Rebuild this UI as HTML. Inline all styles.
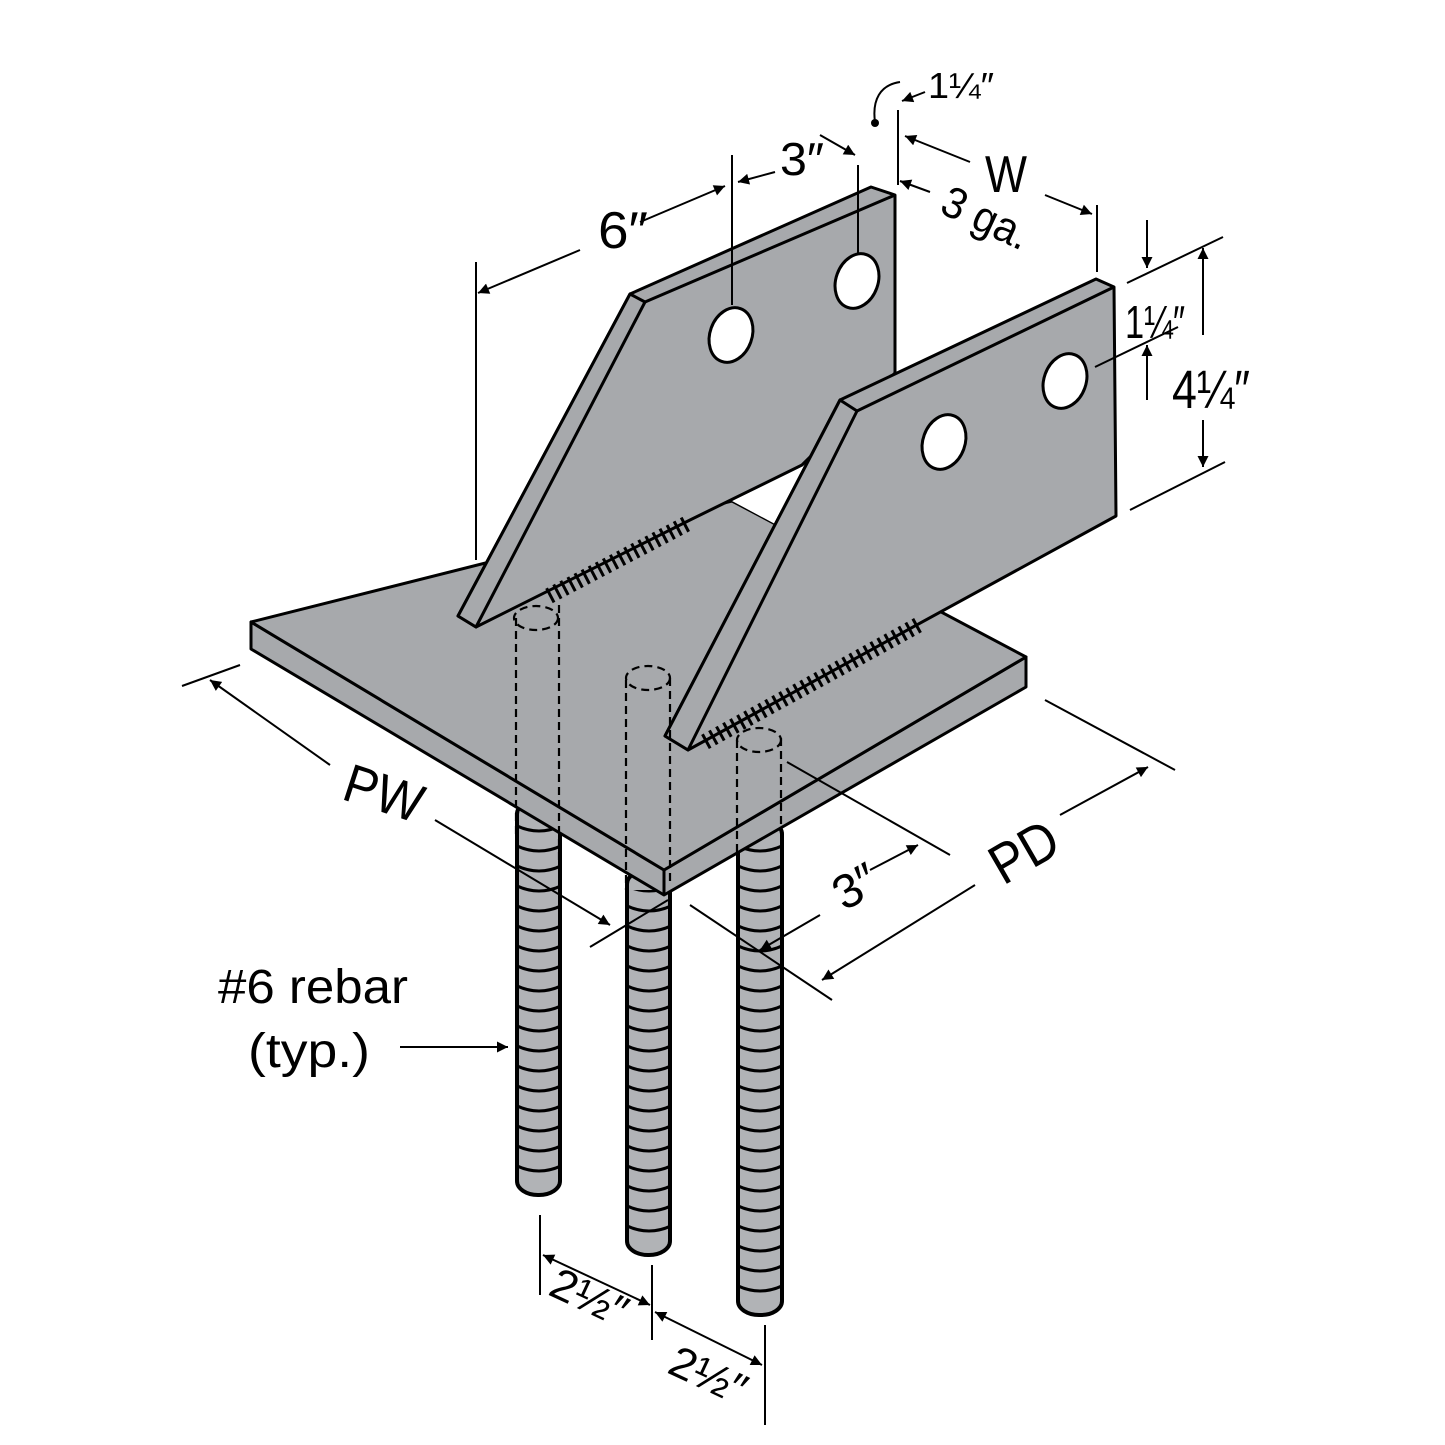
<!DOCTYPE html>
<html><head><meta charset="utf-8"><style>html,body{margin:0;padding:0;background:#fff}svg{display:block}</style></head>
<body>
<svg width="1445" height="1445" viewBox="0 0 1445 1445" xmlns="http://www.w3.org/2000/svg" font-family="Liberation Sans, sans-serif">
<defs>
<marker id="a" viewBox="0 0 10 10" refX="10" refY="5" markerWidth="18" markerHeight="11" markerUnits="userSpaceOnUse" orient="auto-start-reverse"><path d="M0,0 L10,5 L0,10 z" fill="#000"/></marker>
<pattern id="r1" x="517" y="0" width="44" height="20" patternUnits="userSpaceOnUse"><path d="M-2,5 Q22,17 46,5" fill="none" stroke="#000" stroke-width="3"/></pattern>
<pattern id="r2" x="627" y="0" width="44" height="20" patternUnits="userSpaceOnUse"><path d="M-2,5 Q22,17 46,5" fill="none" stroke="#000" stroke-width="3"/></pattern>
<pattern id="r3" x="738" y="0" width="44" height="20" patternUnits="userSpaceOnUse"><path d="M-2,5 Q22,17 46,5" fill="none" stroke="#000" stroke-width="3"/></pattern>
</defs>
<g stroke="#000" stroke-width="3" stroke-linejoin="round" fill="#a7a9ac">
<rect x="517" y="800" width="43" height="395" rx="21" ry="14" fill="#b1b3b6" stroke-width="4"/>
<rect x="519" y="815" width="39" height="365" fill="url(#r1)" stroke="none"/>
<rect x="627" y="870" width="43" height="385" rx="21" ry="14" fill="#b1b3b6" stroke-width="4"/>
<rect x="629" y="890" width="39" height="350" fill="url(#r2)" stroke="none"/>
<rect x="738" y="820" width="44" height="495" rx="21" ry="14" fill="#b1b3b6" stroke-width="4"/>
<rect x="740" y="835" width="40" height="465" fill="url(#r3)" stroke="none"/>
<path d="M251,622 L251,649 L664,895 L1026,687 L1026,657 L664,870 Z"/>
<path d="M251,622 L732,501 L1026,657 L664,870 Z"/>
<line x1="664" y1="870" x2="664" y2="895"/>
<path d="M732,501 L775,524 L802,465 Z" fill="#fff" stroke="none"/>
<path d="M458,616 L630,294 L871,187 L895,195 L895,373 L802,465 L690,520 L476,627 Z"/>
<path d="M630,294 L645,302 L476,627 L458,616 Z"/>
<path d="M645,302 L895,195" fill="none"/>
<path d="M665,736 L840,400 L1096,279 L1114,287 L1116,516 L688,750 Z"/>
<path d="M840,400 L857,411 L688,750 L665,736 Z"/>
<path d="M857,411 L1114,287" fill="none"/>
<g fill="#fff">
<ellipse cx="731" cy="335" rx="21" ry="28" transform="rotate(20 731 335)"/>
<ellipse cx="857" cy="281" rx="21" ry="28" transform="rotate(20 857 281)"/>
<ellipse cx="944" cy="442" rx="21" ry="28" transform="rotate(20 944 442)"/>
<ellipse cx="1065" cy="381" rx="21" ry="28" transform="rotate(20 1065 381)"/>
</g>
<line x1="549" y1="596" x2="690" y2="522" stroke-width="16" stroke-dasharray="3 5" fill="none"/>
<line x1="705" y1="742" x2="918" y2="625" stroke-width="16" stroke-dasharray="3 5" fill="none"/>
<g fill="none" stroke-width="2.2" stroke-dasharray="8 5">
<path d="M516,618 L516,835 M559,605 L559,860"/>
<ellipse cx="536" cy="618" rx="22" ry="12"/>
<path d="M626,680 L626,890 M670,678 L670,885"/>
<ellipse cx="648" cy="678" rx="22" ry="12"/>
<path d="M737,740 L737,855 M781,738 L781,830"/>
<ellipse cx="759" cy="740" rx="22" ry="12"/>
</g>
</g>
<g stroke="#000" stroke-width="2" fill="none">
<line x1="476" y1="262" x2="476" y2="560"/>
<line x1="732" y1="155" x2="732" y2="305"/>
<line x1="858" y1="165" x2="858" y2="255"/>
<line x1="898" y1="110" x2="898" y2="185"/>
<line x1="1097" y1="205" x2="1097" y2="272"/>
<line x1="580" y1="250" x2="478" y2="293" marker-end="url(#a)"/>
<line x1="640" y1="222" x2="725" y2="186" marker-end="url(#a)"/>
<line x1="775" y1="172" x2="738" y2="182" marker-end="url(#a)"/>
<line x1="820" y1="135" x2="855" y2="155" marker-end="url(#a)"/>
<line x1="925" y1="92" x2="902" y2="101" marker-end="url(#a)"/>
<path d="M875,122 C872,100 880,85 900,82"/>
<line x1="970" y1="162" x2="905" y2="136" marker-end="url(#a)"/>
<line x1="1045" y1="195" x2="1092" y2="214" marker-end="url(#a)"/>
<line x1="930" y1="192" x2="900" y2="181" marker-end="url(#a)"/>
<line x1="1127" y1="283" x2="1223" y2="237"/>
<line x1="1095" y1="367" x2="1178" y2="327"/>
<line x1="1130" y1="510" x2="1225" y2="462"/>
<line x1="1147" y1="220" x2="1147" y2="268" marker-end="url(#a)"/>
<line x1="1147" y1="400" x2="1147" y2="345" marker-end="url(#a)"/>
<line x1="1203" y1="335" x2="1203" y2="248" marker-end="url(#a)"/>
<line x1="1203" y1="420" x2="1203" y2="467" marker-end="url(#a)"/>
<line x1="330" y1="765" x2="210" y2="680" marker-end="url(#a)"/>
<line x1="435" y1="820" x2="610" y2="925" marker-end="url(#a)"/>
<line x1="182" y1="686" x2="240" y2="665"/>
<line x1="590" y1="947" x2="668" y2="900"/>
<line x1="1045" y1="700" x2="1175" y2="770"/>
<line x1="690" y1="905" x2="832" y2="1000"/>
<line x1="1060" y1="815" x2="1148" y2="767" marker-end="url(#a)"/>
<line x1="975" y1="885" x2="822" y2="980" marker-end="url(#a)"/>
<line x1="787" y1="762" x2="950" y2="855"/>
<line x1="870" y1="870" x2="918" y2="845" marker-end="url(#a)"/>
<line x1="820" y1="915" x2="760" y2="950" marker-end="url(#a)"/>
<line x1="400" y1="1047" x2="508" y2="1047" marker-end="url(#a)"/>
<line x1="540" y1="1215" x2="540" y2="1295"/>
<line x1="652" y1="1265" x2="652" y2="1340"/>
<line x1="765" y1="1325" x2="765" y2="1425"/>
<line x1="543" y1="1255" x2="650" y2="1305" marker-start="url(#a)" marker-end="url(#a)"/>
<line x1="655" y1="1312" x2="762" y2="1365" marker-start="url(#a)" marker-end="url(#a)"/>
</g>
<circle cx="875" cy="123" r="4" fill="#000"/>
<g fill="#000">
<text x="598" y="248" font-size="52" textLength="50" lengthAdjust="spacingAndGlyphs">6″</text>
<text x="780" y="175" font-size="46" textLength="44" lengthAdjust="spacingAndGlyphs">3″</text>
<text x="928" y="98" font-size="36" textLength="66" lengthAdjust="spacingAndGlyphs">1¼″</text>
<text x="985" y="192" font-size="52" textLength="42" lengthAdjust="spacingAndGlyphs">W</text>
<text x="938" y="212" font-size="44" textLength="92" lengthAdjust="spacingAndGlyphs" transform="rotate(25 938 212)">3 ga.</text>
<text x="1125" y="338" font-size="46" textLength="60" lengthAdjust="spacingAndGlyphs">1¼″</text>
<text x="1172" y="408" font-size="54" textLength="78" lengthAdjust="spacingAndGlyphs">4¼″</text>
<text x="345" y="812" font-size="54" textLength="80" lengthAdjust="spacingAndGlyphs" transform="rotate(18 385 790)">PW</text>
<text x="985" y="872" font-size="56" textLength="70" lengthAdjust="spacingAndGlyphs" transform="rotate(-30 1020 845)">PD</text>
<text x="830" y="902" font-size="48" textLength="44" lengthAdjust="spacingAndGlyphs" transform="rotate(-30 855 880)">3″</text>
<text x="218" y="1003" font-size="48" textLength="190" lengthAdjust="spacingAndGlyphs">#6 rebar</text>
<text x="248" y="1067" font-size="48" textLength="122" lengthAdjust="spacingAndGlyphs">(typ.)</text>
<text x="548" y="1312" font-size="44" textLength="80" lengthAdjust="spacingAndGlyphs" transform="rotate(25 588 1300)">2½″</text>
<text x="667" y="1390" font-size="44" textLength="80" lengthAdjust="spacingAndGlyphs" transform="rotate(25 707 1378)">2½″</text>
</g>
</svg>
</body></html>
